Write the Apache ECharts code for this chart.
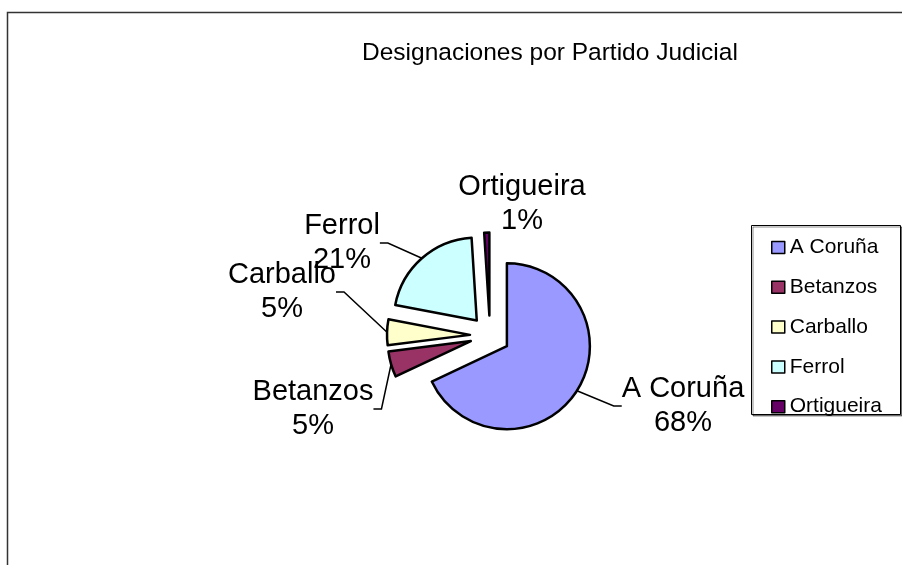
<!DOCTYPE html>
<html>
<head>
<meta charset="utf-8">
<script src="https://cdn.jsdelivr.net/npm/echarts@6/dist/echarts.min.js"></script>
<style>html,body{margin:0;padding:0;background:#fff}#chart{width:902px;height:565px}</style>
</head>
<body>
<div id="chart"></div>
<script>
const titleText = 'Designaciones por Partido Judicial';
const partidos = ['A Coruña', 'Betanzos', 'Carballo', 'Ferrol', 'Ortigueira'];
const porcentajes = [68, 5, 5, 21, 1];
const colores = ['#9999FF', '#993366', '#FFFFCC', '#CCFFFF', '#660066'];
// where Excel left each label block (centre, px)
const labelPos = [[683, 406], [313, 409], [282, 292], [342, 243], [522, 204]];
const showLine = [true, true, true, true, false];

const cx = 490, cy = 335.5, R = 83, explode = 20;
const total = porcentajes.reduce((a, b) => a + b, 0);

// one pie per slice so every slice can be pulled out along its own bisector
let acc = 0;
const series = partidos.map((name, i) => {
  const mid = (acc + porcentajes[i] / 2) / total * 2 * Math.PI;
  acc += porcentajes[i];
  return {
    type: 'pie', name: name, radius: R, startAngle: 90, clockwise: true,
    center: [cx + explode * Math.sin(mid), cy - explode * Math.cos(mid)],
    avoidLabelOverlap: false, emphasis: { disabled: true }, silent: true,
    label: { show: false }, labelLine: { show: false },
    labelLayout: p => ({ x: labelPos[p.seriesIndex][0], y: labelPos[p.seriesIndex][1],
      align: 'center', verticalAlign: 'middle' }),
    data: partidos.map((n, j) => j === i ? {
      name: n, value: porcentajes[j],
      itemStyle: { color: colores[j], borderColor: '#000', borderWidth: 2.5 },
      label: { show: true, position: 'outside', formatter: '{b}\n{d}%',
        fontSize: 29, lineHeight: 34, color: '#000', align: 'center' },
      labelLine: { show: showLine[j], length: 8, length2: 8, lineStyle: { color: '#000', width: 1.5 } }
    } : { name: n, value: porcentajes[j], itemStyle: { color: 'transparent', borderWidth: 0 } })
  };
});

const chart = echarts.init(document.getElementById('chart'));
chart.setOption({
  animation: false,
  textStyle: { fontFamily: 'Arial, "Liberation Sans", sans-serif' },
  title: { text: titleText, left: 362, top: 41, padding: 0,
    textStyle: { fontSize: 24.5, fontWeight: 'normal', color: '#000' } },
  legend: { orient: 'vertical', left: 771, top: 237, padding: 0, itemGap: 18.8,
    itemWidth: 13, itemHeight: 12, icon: 'rect', selectedMode: false, z: 5,
    data: partidos.map((n, i) => ({ name: n,
      itemStyle: { color: colores[i], borderColor: '#000', borderWidth: 1.5 } })),
    textStyle: { fontSize: 21, lineHeight: 20, color: '#000' } },
  graphic: [
    { type: 'rect', z: 0, shape: { x: 7.5, y: 12.5, width: 1000, height: 1000 },
      style: { fill: 'none', stroke: '#333', lineWidth: 1.5 } },
    { type: 'rect', z: 1, shape: { x: 751.5, y: 225.5, width: 149, height: 189 },
      style: { fill: '#fff', stroke: '#000', lineWidth: 1,
        shadowColor: 'rgba(0,0,0,0.45)', shadowOffsetX: 1.5, shadowOffsetY: 1.5 } }
  ],
  series: series
});
</script>
</body>
</html>
